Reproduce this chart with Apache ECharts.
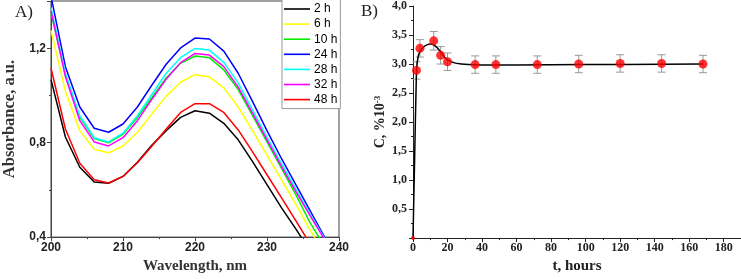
<!DOCTYPE html>
<html>
<head>
<meta charset="utf-8">
<script src="https://cdn.jsdelivr.net/npm/echarts@6/dist/echarts.min.js"></script>
<style>
  html, body {margin: 0; padding: 0; background: #fff;}
  #chart {width: 741px; height: 279px;}
</style>
</head>
<body>
<div id="chart"></div>
<script>
// panel A: absorbance spectra
var wavelengths = [200, 202, 204, 206, 208, 210, 212, 214, 216, 218, 220, 222, 224, 226, 228, 230, 232, 234, 236, 238];
var abs2h  = [1.067, 0.824, 0.696, 0.633, 0.628, 0.657, 0.717, 0.789, 0.851, 0.907, 0.935, 0.925, 0.882, 0.812, 0.720, 0.622, 0.525, 0.435, 0.34, 0.25];
var abs6h  = [1.275, 1.018, 0.851, 0.772, 0.757, 0.786, 0.844, 0.921, 0.997, 1.056, 1.088, 1.079, 1.032, 0.951, 0.851, 0.747, 0.643, 0.540, 0.43, 0.33];
var abs10h = [1.351, 1.088, 0.907, 0.817, 0.799, 0.836, 0.907, 0.990, 1.074, 1.136, 1.167, 1.160, 1.108, 1.025, 0.914, 0.803, 0.692, 0.580, 0.46, 0.36];
var abs24h = [1.42, 1.122, 0.951, 0.861, 0.844, 0.879, 0.951, 1.043, 1.132, 1.201, 1.243, 1.239, 1.188, 1.094, 0.974, 0.851, 0.733, 0.622, 0.511, 0.40];
var abs28h = [1.372, 1.094, 0.914, 0.821, 0.803, 0.840, 0.914, 1.004, 1.094, 1.160, 1.199, 1.192, 1.140, 1.053, 0.938, 0.824, 0.712, 0.604, 0.497, 0.395];
var abs32h = [1.358, 1.080, 0.893, 0.803, 0.786, 0.821, 0.893, 0.983, 1.069, 1.139, 1.178, 1.171, 1.122, 1.035, 0.924, 0.812, 0.701, 0.594, 0.490, 0.39];
var abs48h = [1.115, 0.858, 0.713, 0.643, 0.629, 0.657, 0.715, 0.785, 0.858, 0.928, 0.965, 0.965, 0.928, 0.854, 0.761, 0.664, 0.567, 0.47, 0.37, 0.27];
var specNames = ["2 h", "6 h", "10 h", "24 h", "28 h", "32 h", "48 h"];
var specColors = ["#000000", "#ffff00", "#00ee00", "#0000ff", "#00ffff", "#ff00ff", "#ff0000"];
var specData = [abs2h, abs6h, abs10h, abs24h, abs28h, abs32h, abs48h];

// panel B: concentration vs time
var tHours = [0, 2, 4, 12, 16, 20, 36, 48, 72, 96, 120, 144, 168];
var conc   = [0, 2.89, 3.27, 3.40, 3.15, 3.04, 2.99, 2.99, 2.99, 3.00, 3.01, 3.01, 3.00];
var concErr = [0, 0.15, 0.15, 0.16, 0.15, 0.15, 0.15, 0.15, 0.15, 0.15, 0.15, 0.15, 0.15];
var fitT = [0, 1, 1.8, 2.2, 3, 4, 6, 8, 10, 12, 14, 16, 18, 20, 24, 28, 32, 40, 60, 100, 168];
var fitC = [0, 1.45, 2.6, 2.95, 3.13, 3.21, 3.29, 3.33, 3.345, 3.33, 3.28, 3.21, 3.13, 3.07, 3.02, 3.00, 2.99, 2.985, 2.985, 2.99, 3.0];

var SERIF = "Liberation Serif";
var SANS = "Liberation Sans";
function comma(v) {return v.toFixed(1).replace(".", ",")}

var series = [];
specData.forEach(function(arr, i) {
    series.push({
        name: specNames[i], type: "line", xAxisIndex: 0, yAxisIndex: 0,
        symbol: "none", lineStyle: {width: 1.5, color: specColors[i]}, itemStyle: {color: specColors[i]},
        data: wavelengths.map(function(w, j) {return [w, arr[j]]})
    });
});

series.push({
    type: "line", xAxisIndex: 1, yAxisIndex: 1, smooth: 0.4, symbol: "none",
    lineStyle: {width: 1.5, color: "#000"}, z: 3,
    data: fitT.map(function(t, i) {return [t, fitC[i]]})
});
series.push({
    type: "custom", xAxisIndex: 1, yAxisIndex: 1, z: 2,
    data: tHours.map(function(t, i) {return [t, conc[i], concErr[i]]}),
    renderItem: function(params, api) {
        if (api.value(2) <= 0) return;
        var lo = api.coord([api.value(0), api.value(1) - api.value(2)]);
        var hi = api.coord([api.value(0), api.value(1) + api.value(2)]);
        var st = {stroke: "#999", lineWidth: 1};
        return {type: "group", children: [
            {type: "line", shape: {x1: lo[0], y1: lo[1], x2: hi[0], y2: hi[1]}, style: st},
            {type: "line", shape: {x1: lo[0] - 4, y1: lo[1], x2: lo[0] + 4, y2: lo[1]}, style: st},
            {type: "line", shape: {x1: hi[0] - 4, y1: hi[1], x2: hi[0] + 4, y2: hi[1]}, style: st}
        ]};
    }
});
series.push({
    type: "scatter", xAxisIndex: 1, yAxisIndex: 1, z: 4,
    itemStyle: {color: "#ff0000"},
    data: tHours.map(function(t, i) {return {value: [t, conc[i]], symbolSize: i == 0 ? 4 : 9}})
});

var option = {
    animation: false,
    backgroundColor: "#fff",
    graphic: [
        {type: "text", left: 15, top: 4, style: {text: "A)", font: "17px " + SERIF, fill: "#222"}},
        {type: "text", left: 361, top: 3, style: {text: "B)", font: "17px " + SERIF, fill: "#222"}}
    ],
    legend: {
        data: specNames, orient: "vertical", left: 282, top: -1,
        icon: "path://M0,0h26v1.6h-26z",
        itemWidth: 26, itemHeight: 12, itemGap: 3.1,
        padding: [4, 3, 3, 2],
        backgroundColor: "#fff", borderColor: "#999", borderWidth: 1,
        textStyle: {fontFamily: SANS, fontSize: 12, color: "#000", padding: [0, 0, 0, -1]}
    },
    grid: [
        {left: 50, top: 1, width: 289, height: 241, show: true, borderColor: "#444", borderWidth: 1},
        {left: 413, top: 5, width: 328, height: 238}
    ],
    xAxis: [{
        gridIndex: 0, type: "value", min: 200, max: 240, interval: 10,
        name: "Wavelength, nm", nameLocation: "middle", nameGap: 19,
        nameTextStyle: {fontFamily: SERIF, fontWeight: "bold", fontSize: 15, color: "#333"},
        axisLine: {lineStyle: {color: "#444"}}, axisTick: {length: 4, lineStyle: {color: "#444"}},
        minorTick: {show: true, splitNumber: 2, length: 2, lineStyle: {color: "#444"}},
        splitLine: {show: false},
        axisLabel: {fontFamily: SANS, fontWeight: "bold", fontSize: 12, color: "#222", margin: 5}
    }, {
        gridIndex: 1, type: "value", min: 0, max: 190, interval: 20,
        name: "t, hours", nameLocation: "middle", nameGap: 19,
        nameTextStyle: {fontFamily: SERIF, fontWeight: "bold", fontSize: 15, color: "#222"},
        axisLine: {onZero: false, lineStyle: {color: "#222"}}, axisTick: {length: 4, lineStyle: {color: "#222"}},
        minorTick: {show: true, splitNumber: 2, length: 2, lineStyle: {color: "#222"}},
        splitLine: {show: false},
        axisLabel: {fontFamily: SERIF, fontWeight: "bold", fontSize: 12, color: "#222", margin: 4, showMaxLabel: false}
    }],
    yAxis: [{
        gridIndex: 0, type: "value", min: 0.4, max: 1.4, interval: 0.4,
        name: "Absorbance, a.u.", nameLocation: "middle", nameGap: 33,
        nameTextStyle: {fontFamily: SERIF, fontWeight: "bold", fontSize: 16.5, color: "#333"},
        axisLine: {lineStyle: {color: "#444"}}, axisTick: {length: 4, lineStyle: {color: "#444"}},
        minorTick: {show: true, splitNumber: 2, length: 2, lineStyle: {color: "#444"}},
        splitLine: {show: false},
        axisLabel: {fontFamily: SANS, fontWeight: "bold", fontSize: 12, color: "#222", margin: 5,
            showMaxLabel: false, formatter: comma}
    }, {
        gridIndex: 1, type: "value", min: 0, max: 4, interval: 0.5,
        name: "C, %10{sup|-3}", nameLocation: "middle", nameGap: 25,
        nameTextStyle: {fontFamily: SERIF, fontWeight: "bold", fontSize: 14, color: "#222",
            rich: {sup: {fontFamily: SERIF, fontWeight: "bold", fontSize: 9, color: "#222", verticalAlign: "top", padding: [0, 0, 6, 0]}}},
        axisLine: {onZero: false, lineStyle: {color: "#222"}}, axisTick: {length: 4, lineStyle: {color: "#222"}},
        minorTick: {show: true, splitNumber: 2, length: 2, lineStyle: {color: "#222"}},
        splitLine: {show: false},
        axisLabel: {fontFamily: SERIF, fontWeight: "bold", fontSize: 12, color: "#222", margin: 6,
            showMinLabel: false, formatter: comma}
    }],
    series: series
};

var chart = echarts.init(document.getElementById("chart"));
chart.setOption(option);
</script>
</body>
</html>
